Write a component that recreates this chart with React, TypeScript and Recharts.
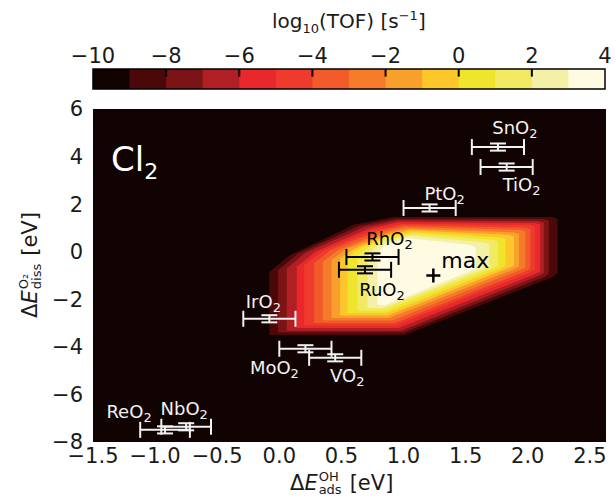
import React from "react";
import {
  ComposedChart,
  Area,
  Scatter,
  ErrorBar,
  XAxis,
  YAxis,
  CartesianGrid,
  ReferenceArea,
  ReferenceLine,
} from "recharts";

const FONT = "DejaVu Sans";

// colour bar: log10(TOF) bands
const CBAR_EDGES = [-10, -9, -8, -7, -6, -5, -4, -3, -2, -1, 0, 1, 2, 3, 4];
const CBAR_COLORS = [
  "#120303",
  "#4a0809",
  "#7a1416",
  "#b01f24",
  "#e8282a",
  "#ee3b2d",
  "#f15a29",
  "#f47b2a",
  "#f99f2b",
  "#fdc72c",
  "#efe52c",
  "#f1ea62",
  "#f5f0a8",
  "#fffbe2",
];
const CBAR_TICKS = [-10, -8, -6, -4, -2, 0, 2, 4];
const CBAR_INNER_TICKS = [-8, -6, -4, -2, 0, 2];

const X_TICKS = [-1.5, -1, -0.5, 0, 0.5, 1, 1.5, 2, 2.5];
const Y_TICKS = [-8, -6, -4, -2, 0, 2, 4, 6];

// filled contours, [x, lower, upper] for log10(TOF) > level
const CONTOUR_LEVELS = [-9, -8, -7, -6, -5, -4, -3, -2, -1, 0, 1, 2, 3];
const C_M9 = [[-0.08, -3.5, -0.85], [0.09, -3.5, -0.13], [0.31, -3.5, 0.41], [0.6, -3.5, 1.13], [0.92, -3.5, 1.46], [1.01, -3.5, 1.46], [2.2, -1.06, 1.46], [2.24, -0.9, 1.38]];
const C_M8 = [[-0.01, -3.4, -0.78], [0.15, -3.4, -0.08], [0.36, -3.4, 0.42], [0.64, -3.4, 1.08], [0.94, -3.4, 1.39], [1.0, -3.4, 1.39], [2.13, -1.07, 1.38], [2.17, -0.92, 1.31]];
const C_M7 = [[0.06, -3.32, -0.71], [0.21, -3.32, -0.04], [0.41, -3.32, 0.42], [0.68, -3.32, 1.03], [0.96, -3.32, 1.32], [0.98, -3.32, 1.32], [2.09, -1.01, 1.29], [2.13, -0.88, 1.22]];
const C_M6 = [[0.14, -3.21, -0.63], [0.29, -3.21, 0.0], [0.47, -3.21, 0.42], [0.72, -3.21, 0.97], [0.96, -3.21, 1.25], [2.06, -0.94, 1.21], [2.1, -0.82, 1.14]];
const C_M5 = [[0.2, -3.1, -0.56], [0.35, -3.1, 0.03], [0.52, -3.1, 0.42], [0.76, -3.1, 0.92], [0.94, -3.1, 1.12], [0.98, -3.01, 1.18], [2.02, -0.87, 1.13], [2.06, -0.76, 1.06]];
const C_M4 = [[0.28, -3.0, -0.49], [0.41, -3.0, 0.06], [0.57, -3.0, 0.42], [0.79, -3.0, 0.86], [0.93, -3.0, 1.03], [1.0, -2.85, 1.11], [1.98, -0.83, 1.02], [2.02, -0.72, 0.95]];
const C_M3 = [[0.35, -2.89, -0.42], [0.48, -2.89, 0.09], [0.64, -2.89, 0.42], [0.82, -2.89, 0.8], [0.91, -2.89, 0.92], [1.02, -2.66, 1.04], [1.94, -0.77, 0.92], [1.98, -0.66, 0.85]];
const C_M2 = [[0.42, -2.79, -0.35], [0.54, -2.79, 0.12], [0.69, -2.79, 0.42], [0.88, -2.79, 0.8], [1.04, -2.47, 0.97], [1.89, -0.73, 0.81], [1.93, -0.62, 0.74]];
const C_M1 = [[0.49, -2.68, -0.28], [0.61, -2.68, 0.14], [0.73, -2.68, 0.42], [0.87, -2.68, 0.7], [1.06, -2.3, 0.9], [1.84, -0.69, 0.71], [1.89, -0.59, 0.64]];
const C_0 = [[0.55, -2.58, -0.22], [0.66, -2.58, 0.17], [0.77, -2.58, 0.42], [0.86, -2.58, 0.62], [1.08, -2.13, 0.83], [1.78, -0.69, 0.6], [1.82, -0.58, 0.53]];
const C_1 = [[0.63, -2.48, -0.16], [0.72, -2.48, 0.2], [0.85, -2.48, 0.55], [1.08, -2.0, 0.76], [1.72, -0.69, 0.5], [1.76, -0.59, 0.43]];
const C_2 = [[0.71, -2.37, -0.1], [0.79, -2.37, 0.25], [0.84, -2.37, 0.4], [1.06, -1.93, 0.68], [1.65, -0.72, 0.39], [1.69, -0.62, 0.32]];
const C_3 = [[0.79, -2.24, -0.05], [0.85, -2.24, 0.28], [1.03, -1.88, 0.58], [1.53, -0.83, 0.29], [1.58, -0.72, 0.22]];
const CONTOURS = [C_M9, C_M8, C_M7, C_M6, C_M5, C_M4, C_M3, C_M2, C_M1, C_0, C_1, C_2, C_3];

// oxides
const OXIDES = ["SnO2", "TiO2", "PtO2", "RhO2", "RuO2", "IrO2", "MoO2", "VO2", "ReO2", "NbO2"];
const OXIDE_X = [1.76, 1.83, 1.21, 0.75, 0.69, -0.08, 0.21, 0.45, -0.92, -0.75];
const OXIDE_Y = [4.4, 3.56, 1.84, -0.22, -0.76, -2.82, -4.08, -4.46, -7.49, -7.36];
const OXIDE_XERR = [0.21, 0.21, 0.21, 0.21, 0.21, 0.21, 0.21, 0.21, 0.2, 0.2];
const OXIDE_YERR = [0.15, 0.15, 0.15, 0.15, 0.15, 0.15, 0.15, 0.15, 0.15, 0.15];

const MAX_POINT = [{ x: 1.24, y: -1.0 }];

// label placement (px, relative to marker)
const LABEL_OFFSET: Record<string, [number, number]> = {
  SnO2: [17, -19],
  TiO2: [15, 18],
  PtO2: [15, -14],
  RhO2: [17, -18],
  RuO2: [17, 20],
  IrO2: [-6, -17],
  MoO2: [-31, 19],
  VO2: [12, 18],
  ReO2: [-36, -18],
  NbO2: [-2, -18],
};
const DARK = ["RhO2", "RuO2"];

const oxideData = OXIDES.map((name, i) => ({
  name,
  x: OXIDE_X[i],
  y: OXIDE_Y[i],
  ex: OXIDE_XERR[i],
  ey: OXIDE_YERR[i],
}));
const lightPoints = oxideData.filter((d) => !DARK.includes(d.name));
const darkPoints = oxideData.filter((d) => DARK.includes(d.name));

const minus = (s: string) => s.replace("-", "\u2212");
const fmtX = (v: number) => minus(v.toFixed(1));
const fmtY = (v: number) => minus(String(v));

const labelShape = (color: string) => (props: any) => {
  const { cx, cy, payload } = props;
  const off = LABEL_OFFSET[payload.name] || [0, 0];
  return (
    <text
      x={cx + off[0]}
      y={cy + off[1] + 6}
      textAnchor="middle"
      fill={color}
      fontSize={18}
      fontFamily={FONT}
    >
      {payload.name.slice(0, -1)}
      <tspan fontSize={13} dy={4}>
        2
      </tspan>
    </text>
  );
};

const maxShape = (props: any) => {
  const { cx, cy } = props;
  return (
    <g>
      <line x1={cx - 7} x2={cx + 7} y1={cy} y2={cy} stroke="#000" strokeWidth={2.5} />
      <line x1={cx} x2={cx} y1={cy - 7} y2={cy + 7} stroke="#000" strokeWidth={2.5} />
      <text x={cx + 8} y={cy - 8} fill="#000" fontSize={22} fontFamily={FONT}>
        max
      </text>
    </g>
  );
};

const tickStyle = { fontSize: 21, fontFamily: FONT, fill: "#1a1a1a" };

function ColorBar() {
  const last = CBAR_EDGES[CBAR_EDGES.length - 1];
  return (
    <ComposedChart width={616} height={100} margin={{ top: 39, right: 11, bottom: 11, left: 93 }}>
      <XAxis
        dataKey="x"
        type="number"
        orientation="top"
        domain={[-10, 4]}
        ticks={CBAR_TICKS}
        tickFormatter={fmtY}
        allowDataOverflow
        height={30}
        tickLine={false}
        axisLine={false}
        tickSize={0}
        tickMargin={6}
        tick={tickStyle}
        interval={0}
      />
      <YAxis hide domain={[0, 1]} type="number" allowDataOverflow />
      {/* each band is laid from its lower edge to the top of the scale, later bands cover earlier ones */}
      {CBAR_COLORS.map((c, i) => (
        <Area
          key={i}
          data={[
            { x: CBAR_EDGES[i], r: [0, 1] },
            { x: last, r: [0, 1] },
          ]}
          dataKey="r"
          type="linear"
          stroke="none"
          fill={c}
          fillOpacity={1}
          dot={false}
          activeDot={false}
          isAnimationActive={false}
        />
      ))}
      {CBAR_INNER_TICKS.map((t) => (
        <ReferenceLine key={t} segment={[{ x: t, y: 1 }, { x: t, y: 0.62 }]} stroke="#000" strokeWidth={2} />
      ))}
      <ReferenceArea x1={-10} x2={4} y1={0} y2={1} fill="none" stroke="#000" strokeWidth={1.5} />
    </ComposedChart>
  );
}

function MainPlot() {
  return (
    <ComposedChart width={616} height={503} margin={{ top: 109, right: 10, bottom: 31, left: 33 }}>
      <CartesianGrid horizontal={false} vertical={false} fill="#120303" stroke="none" />
      <XAxis
        dataKey="x"
        type="number"
        domain={[-1.5, 2.63]}
        ticks={X_TICKS}
        tickFormatter={fmtX}
        allowDataOverflow
        height={30}
        tickLine={false}
        axisLine={false}
        tickSize={0}
        tickMargin={6}
        tick={tickStyle}
        interval={0}
      />
      <YAxis
        dataKey="y"
        type="number"
        domain={[-8, 6]}
        ticks={Y_TICKS}
        tickFormatter={fmtY}
        allowDataOverflow
        width={60}
        tickLine={false}
        axisLine={false}
        tickSize={0}
        tickMargin={10}
        tick={tickStyle}
        interval={0}
      />
      {CONTOURS.map((rows, i) => (
        <Area
          key={CONTOUR_LEVELS[i]}
          data={rows.map(([x, lo, hi]) => ({ x, r: [lo, hi] }))}
          dataKey="r"
          type="linear"
          stroke="none"
          fill={CBAR_COLORS[CONTOUR_LEVELS[i] + 10]}
          fillOpacity={1}
          dot={false}
          activeDot={false}
          isAnimationActive={false}
        />
      ))}
      <Scatter data={lightPoints} dataKey="y" shape={labelShape("#f2f2f2")} isAnimationActive={false}>
        <ErrorBar dataKey="ex" direction="x" width={8} stroke="#f2f2f2" strokeWidth={2} />
        <ErrorBar dataKey="ey" direction="y" width={8} stroke="#f2f2f2" strokeWidth={2} />
      </Scatter>
      <Scatter data={darkPoints} dataKey="y" shape={labelShape("#000")} isAnimationActive={false}>
        <ErrorBar dataKey="ex" direction="x" width={8} stroke="#000" strokeWidth={2} />
        <ErrorBar dataKey="ey" direction="y" width={8} stroke="#000" strokeWidth={2} />
      </Scatter>
      <Scatter data={MAX_POINT} dataKey="y" shape={maxShape} isAnimationActive={false} />
    </ComposedChart>
  );
}

const stack = (top: string, bottom: string) => (
  <span
    style={{
      display: "inline-flex",
      flexDirection: "column",
      fontSize: 13,
      lineHeight: "13px",
      verticalAlign: "middle",
      marginLeft: 1,
    }}
  >
    <span>{top}</span>
    <span>{bottom}</span>
  </span>
);

export default function App() {
  return (
    <div
      style={{
        position: "absolute",
        left: 0,
        top: 0,
        width: 616,
        height: 503,
        background: "#fff",
        fontFamily: FONT,
        color: "#1a1a1a",
        overflow: "hidden",
      }}
    >
      <div style={{ position: "absolute", left: 0, top: 0 }}>
        <MainPlot />
      </div>
      <div style={{ position: "absolute", left: 0, top: 0 }}>
        <ColorBar />
      </div>
      {/* colour bar title */}
      <div style={{ position: "absolute", left: 272, top: 8, fontSize: 20, whiteSpace: "nowrap" }}>
        log<sub style={{ fontSize: 13 }}>10</sub>(TOF) [s<sup style={{ fontSize: 13 }}>{"\u22121"}</sup>]
      </div>
      {/* panel label */}
      <div style={{ position: "absolute", left: 111, top: 139, fontSize: 34, color: "#fff", whiteSpace: "nowrap" }}>
        Cl<sub style={{ fontSize: 22 }}>2</sub>
      </div>
      {/* x label */}
      <div
        style={{
          position: "absolute",
          left: 290,
          top: 470,
          fontSize: 21,
          whiteSpace: "nowrap",
          display: "flex",
          alignItems: "center",
        }}
      >
        <span>Δ</span>
        <span style={{ fontStyle: "italic" }}>E</span>
        {stack("OH", "ads")}
        <span style={{ marginLeft: 8 }}>[eV]</span>
      </div>
      {/* y label */}
      <div
        style={{
          position: "absolute",
          left: 30,
          top: 265,
          fontSize: 21,
          whiteSpace: "nowrap",
          display: "flex",
          alignItems: "center",
          transform: "translate(-50%, -50%) rotate(-90deg)",
        }}
      >
        <span>Δ</span>
        <span style={{ fontStyle: "italic" }}>E</span>
        {stack("O\u2082", "diss")}
        <span style={{ marginLeft: 8 }}>[eV]</span>
      </div>
    </div>
  );
}
